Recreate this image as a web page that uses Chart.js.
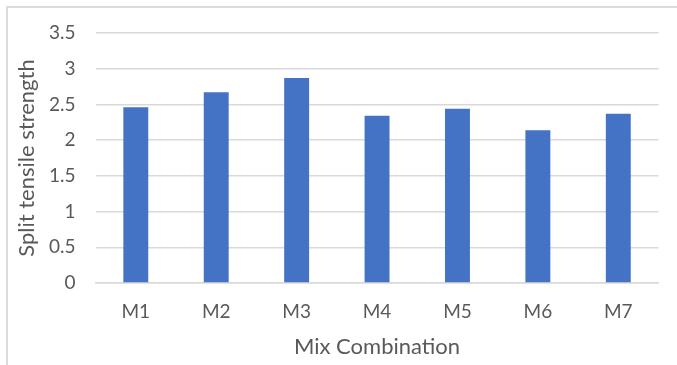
<!DOCTYPE html>
<html>
<head>
<meta charset="utf-8">
<script src="https://cdn.jsdelivr.net/npm/chart.js@4/dist/chart.umd.min.js"></script>
<style>
  html, body { margin: 0; padding: 0; background: #ffffff; overflow: hidden; }
  #wrap { position: relative; width: 677px; height: 365px; }
  #frame { position: absolute; left: 6px; top: 6px; width: 700px; height: 400px;
           border: 2px solid #dcdcdc; box-sizing: border-box; }
  canvas { position: absolute; left: 0; top: 0; }
</style>
</head>
<body>
<div id="wrap">
  <div id="frame"></div>
  <canvas id="chart" width="677" height="365"></canvas>
</div>
<script>
// Split tensile strength for each mix combination
const mixes = ['M1', 'M2', 'M3', 'M4', 'M5', 'M6', 'M7'];
const splitTensile = [2.46, 2.67, 2.87, 2.34, 2.44, 2.14, 2.37];
const yTicks = [0, 0.5, 1, 1.5, 2, 2.5, 3, 3.5];

const xTitle = 'Mix Combination';
const yTitle = 'Split tensile strength';

const textColor = '#595959';
const fontFamily = 'Lato, "Open Sans", sans-serif';

new Chart(document.getElementById('chart'), {
  type: 'bar',
  data: {
    labels: mixes,
    datasets: [{
      data: splitTensile,
      backgroundColor: '#4472c4',
      borderWidth: 0,
      categoryPercentage: 1,
      barPercentage: 0.31
    }]
  },
  options: {
    responsive: false,
    animation: false,
    layout: { padding: { top: 33, right: 18.5, left: 0, bottom: 0 } },
    plugins: { legend: { display: false }, tooltip: { enabled: false } },
    scales: {
      x: {
        grid: { display: false, drawTicks: false },
        border: { display: true, color: '#d9d9d9', width: 1.5 },
        ticks: { color: textColor, font: { family: fontFamily, size: 19 }, padding: 17 },
        title: { display: true, text: xTitle, color: textColor,
                 font: { family: fontFamily, size: 22 }, padding: { top: 4, bottom: 5 } },
        afterFit: (s) => { s.height = 82; }
      },
      y: {
        min: 0, max: 3.5,
        afterBuildTicks: (s) => { s.ticks = yTicks.map(v => ({ value: v })); },
        grid: { color: '#d9d9d9', lineWidth: 1.5, drawTicks: false },
        border: { display: false },
        ticks: { color: textColor, font: { family: fontFamily, size: 19 }, padding: 20,
                 callback: (v) => String(v) },
        title: { display: true, text: yTitle, color: textColor,
                 font: { family: fontFamily, size: 22 }, padding: { top: 14, bottom: 0 } },
        afterFit: (s) => { s.width = 95.6; }
      }
    }
  }
});
</script>
</body>
</html>
